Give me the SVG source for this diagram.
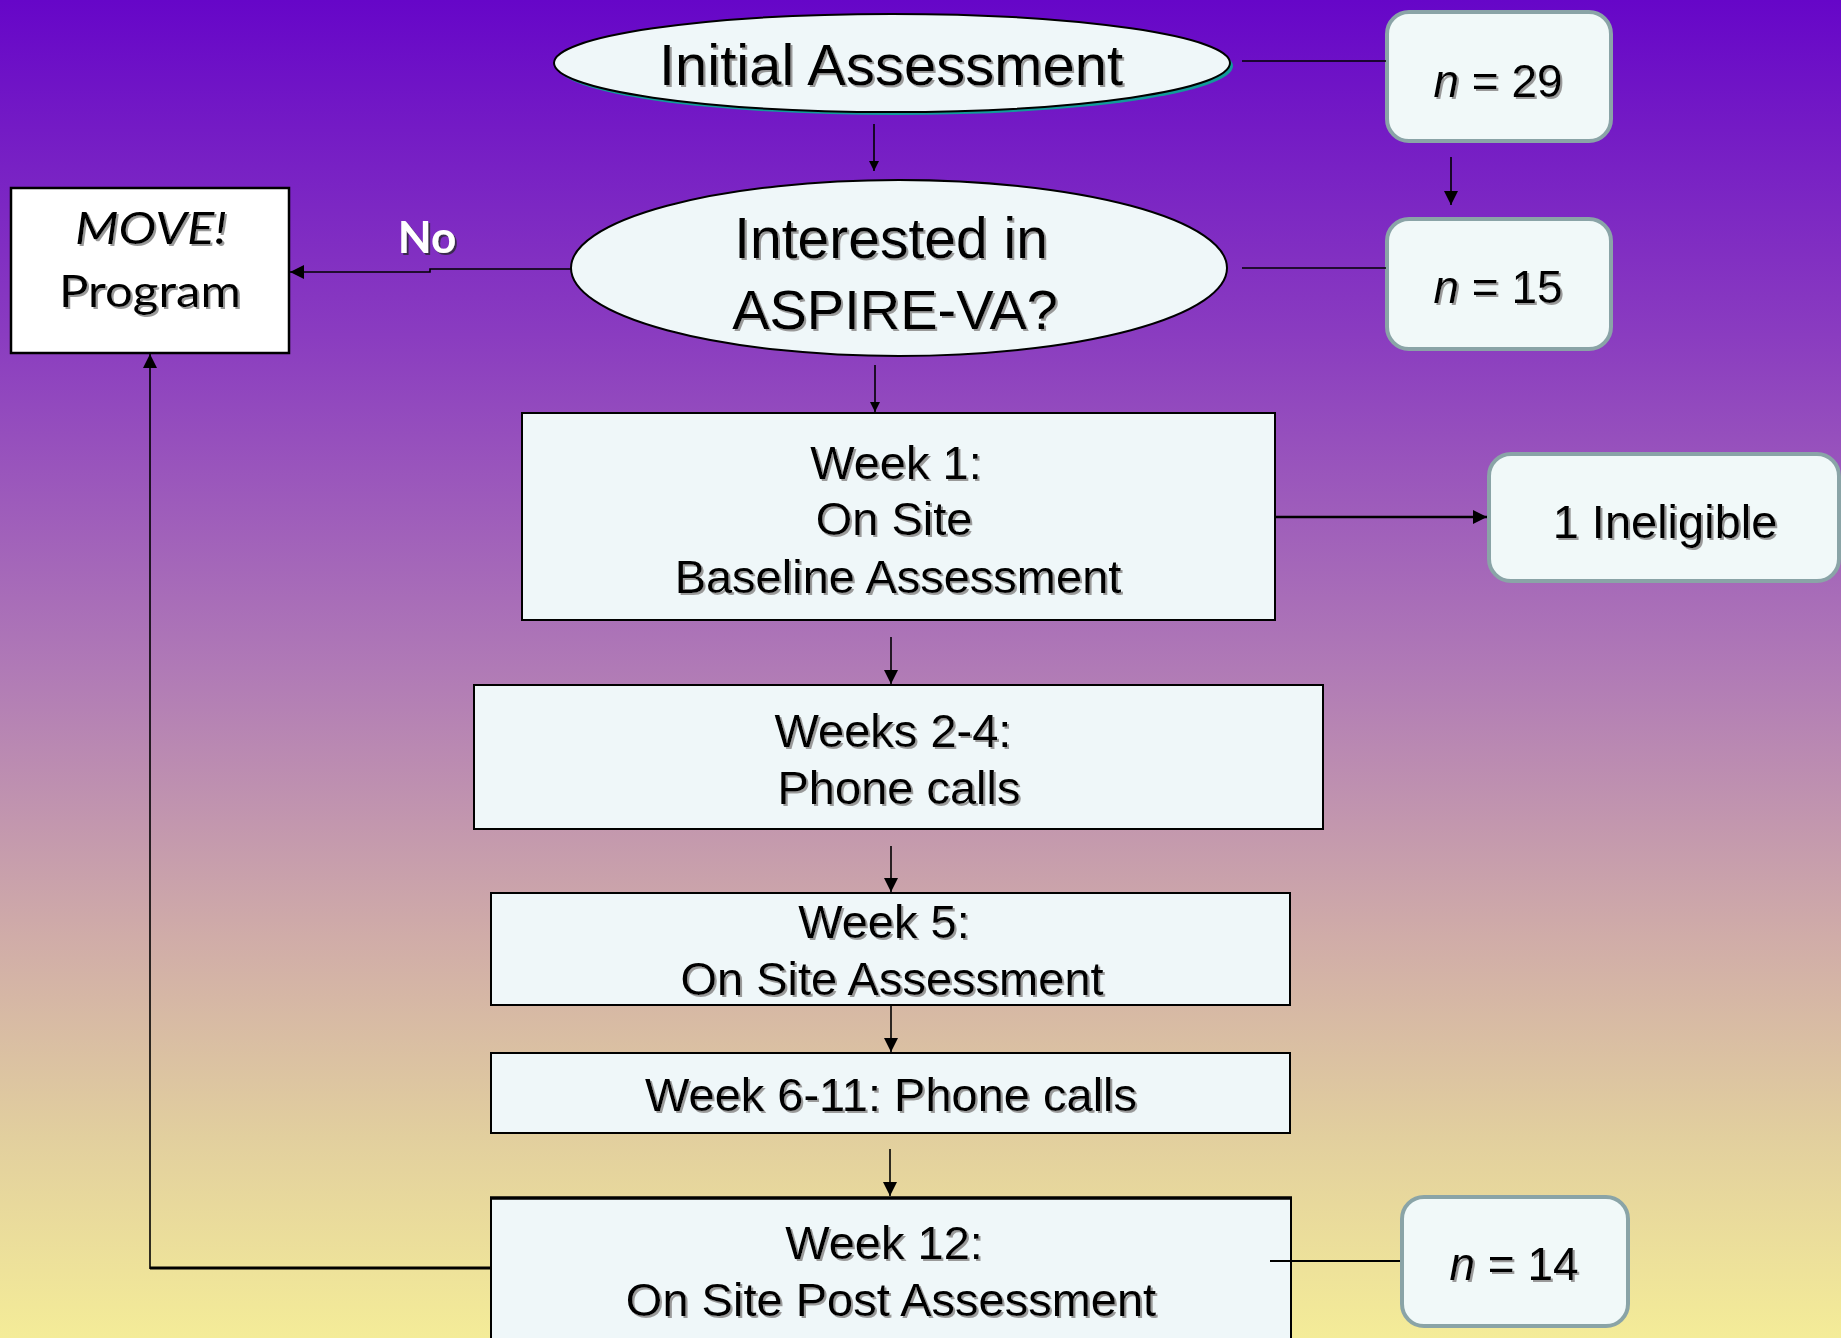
<svg xmlns="http://www.w3.org/2000/svg" width="1841" height="1338" viewBox="0 0 1841 1338">
<defs>
<linearGradient id="bg" x1="0" y1="0" x2="0" y2="1">
<stop offset="0" stop-color="#6606c8"/>
<stop offset="0.25" stop-color="#8a3cc0"/>
<stop offset="0.5" stop-color="#b07ab6"/>
<stop offset="0.7" stop-color="#d0aca8"/>
<stop offset="0.85" stop-color="#e2cf9e"/>
<stop offset="1" stop-color="#f4ec98"/>
</linearGradient>
<filter id="sh" x="-10%" y="-10%" width="120%" height="130%">
<feOffset in="SourceAlpha" dx="2" dy="2" result="o"/>
<feFlood flood-color="#9a9a9a"/>
<feComposite in2="o" operator="in" result="s"/>
<feMerge><feMergeNode in="s"/><feMergeNode in="SourceGraphic"/></feMerge>
</filter>
<filter id="shd" x="-10%" y="-10%" width="120%" height="130%">
<feOffset in="SourceAlpha" dx="2" dy="2" result="o"/>
<feFlood flood-color="#3a2a50"/>
<feComposite in2="o" operator="in" result="s"/>
<feMerge><feMergeNode in="s"/><feMergeNode in="SourceGraphic"/></feMerge>
</filter>
<marker id="ah" viewBox="0 0 10 10" refX="10" refY="5" markerWidth="10" markerHeight="10" markerUnits="userSpaceOnUse" orient="auto">
<path d="M0,0 L10,5 L0,10 Z" fill="#000"/>
</marker>
<marker id="ahb" viewBox="0 0 10 10" refX="10" refY="5" markerWidth="14" markerHeight="14" markerUnits="userSpaceOnUse" orient="auto">
<path d="M0,0 L10,5 L0,10 Z" fill="#000"/>
</marker>
</defs>
<style>
.t{font-family:"Liberation Sans",Arial,sans-serif;fill:#000;text-anchor:middle;filter:url(#sh)}
.c{font-family:Lato,"Open Sans",sans-serif;fill:#000;text-anchor:middle;filter:url(#sh)}
.node{fill:#eff7f9;stroke:#000;stroke-width:2}
.rnd{fill:#f1f9f9;stroke:#8aa4a7;stroke-width:4}
.ln{fill:none;stroke:#000;stroke-width:1.6}
</style>
<rect x="0" y="0" width="1841" height="1338" fill="url(#bg)"/>

<g id="initial">
<ellipse cx="895" cy="66" rx="338" ry="49" fill="#129a9a"/>
<ellipse cx="892" cy="63" rx="338" ry="49" class="node"/>
<text class="t" x="891" y="85" font-size="58">Initial Assessment</text>
</g>

<g id="n29">
<rect class="rnd" x="1387" y="12" width="224" height="129" rx="22"/>
<text class="t" x="1498" y="97" font-size="46"><tspan font-style="italic">n</tspan> = 29</text>
</g>

<g id="interested">
<ellipse cx="899" cy="268" rx="328" ry="88" class="node"/>
<text class="t" x="891" y="258" font-size="57">Interested in</text>
<text class="t" x="895" y="329" font-size="56">ASPIRE-VA?</text>
</g>

<g id="n15">
<rect class="rnd" x="1387" y="219" width="224" height="130" rx="22"/>
<text class="t" x="1498" y="303" font-size="46"><tspan font-style="italic">n</tspan> = 15</text>
</g>

<g id="move">
<rect x="11" y="188" width="278" height="165" fill="#ffffff" stroke="#000" stroke-width="2.5"/>
<text class="c" x="151" y="244" font-size="44" font-style="italic" textLength="152" lengthAdjust="spacingAndGlyphs">MOVE!</text>
<text class="c" x="150" y="307" font-size="44" textLength="182" lengthAdjust="spacingAndGlyphs">Program</text>
</g>

<g id="no-label">
<text x="427" y="253" font-family="Lato,'Open Sans',sans-serif" font-weight="bold" font-size="44" fill="#ffffff" text-anchor="middle" filter="url(#shd)">No</text>
</g>

<g id="week1">
<rect class="node" x="522" y="413" width="753" height="207"/>
<text class="t" x="896" y="479" font-size="47">Week 1:</text>
<text class="t" x="894" y="535" font-size="47">On Site</text>
<text class="t" x="898" y="593" font-size="47">Baseline Assessment</text>
</g>

<g id="ineligible">
<rect class="rnd" x="1489" y="454" width="350" height="127" rx="22"/>
<text class="t" x="1665" y="538" font-size="47">1 Ineligible</text>
</g>

<g id="weeks2-4">
<rect class="node" x="474" y="685" width="849" height="144"/>
<text class="t" x="893" y="747" font-size="47">Weeks 2-4:</text>
<text class="t" x="899" y="804" font-size="47">Phone calls</text>
</g>

<g id="week5">
<rect class="node" x="491" y="893" width="799" height="112"/>
<text class="t" x="884" y="938" font-size="47">Week 5:</text>
<text class="t" x="892" y="995" font-size="47">On Site Assessment</text>
</g>

<g id="week6-11">
<rect class="node" x="491" y="1053" width="799" height="80"/>
<text class="t" x="891" y="1111" font-size="47">Week 6-11: Phone calls</text>
</g>

<g id="week12">
<rect class="node" x="491" y="1198" width="800" height="150"/>
<line x1="490" y1="1198" x2="1292" y2="1198" stroke="#000" stroke-width="3.5"/>
<text class="t" x="884" y="1259" font-size="47">Week 12:</text>
<text class="t" x="891" y="1316" font-size="47">On Site Post Assessment</text>
</g>

<g id="n14">
<rect class="rnd" x="1402" y="1197" width="226" height="129" rx="22"/>
<text class="t" x="1514" y="1280" font-size="46"><tspan font-style="italic">n</tspan> = 14</text>
</g>

<g id="connectors">
<line class="ln" x1="874" y1="124" x2="874" y2="171" marker-end="url(#ah)"/>
<line class="ln" x1="875" y1="365" x2="875" y2="412" marker-end="url(#ah)"/>
<line class="ln" x1="1242" y1="61" x2="1386" y2="61"/>
<line class="ln" x1="1242" y1="268" x2="1386" y2="268"/>
<line class="ln" x1="1451" y1="157" x2="1451" y2="205" marker-end="url(#ahb)"/>
<polyline class="ln" points="571,269 430,269 430,272 290,272" marker-end="url(#ahb)"/>
<line class="ln" style="stroke-width:2.5" x1="1276" y1="517" x2="1487" y2="517" marker-end="url(#ahb)"/>
<line class="ln" x1="891" y1="637" x2="891" y2="684" marker-end="url(#ahb)"/>
<line class="ln" x1="891" y1="846" x2="891" y2="892" marker-end="url(#ahb)"/>
<line class="ln" x1="891" y1="1006" x2="891" y2="1052" marker-end="url(#ahb)"/>
<line class="ln" x1="890" y1="1149" x2="890" y2="1196" marker-end="url(#ahb)"/>
<line class="ln" style="stroke-width:3" x1="490" y1="1268" x2="150" y2="1268"/>
<line class="ln" x1="150" y1="1269" x2="150" y2="354" marker-end="url(#ahb)"/>
<line class="ln" style="stroke-width:2" x1="1270" y1="1261" x2="1400" y2="1261"/>
</g>
</svg>
